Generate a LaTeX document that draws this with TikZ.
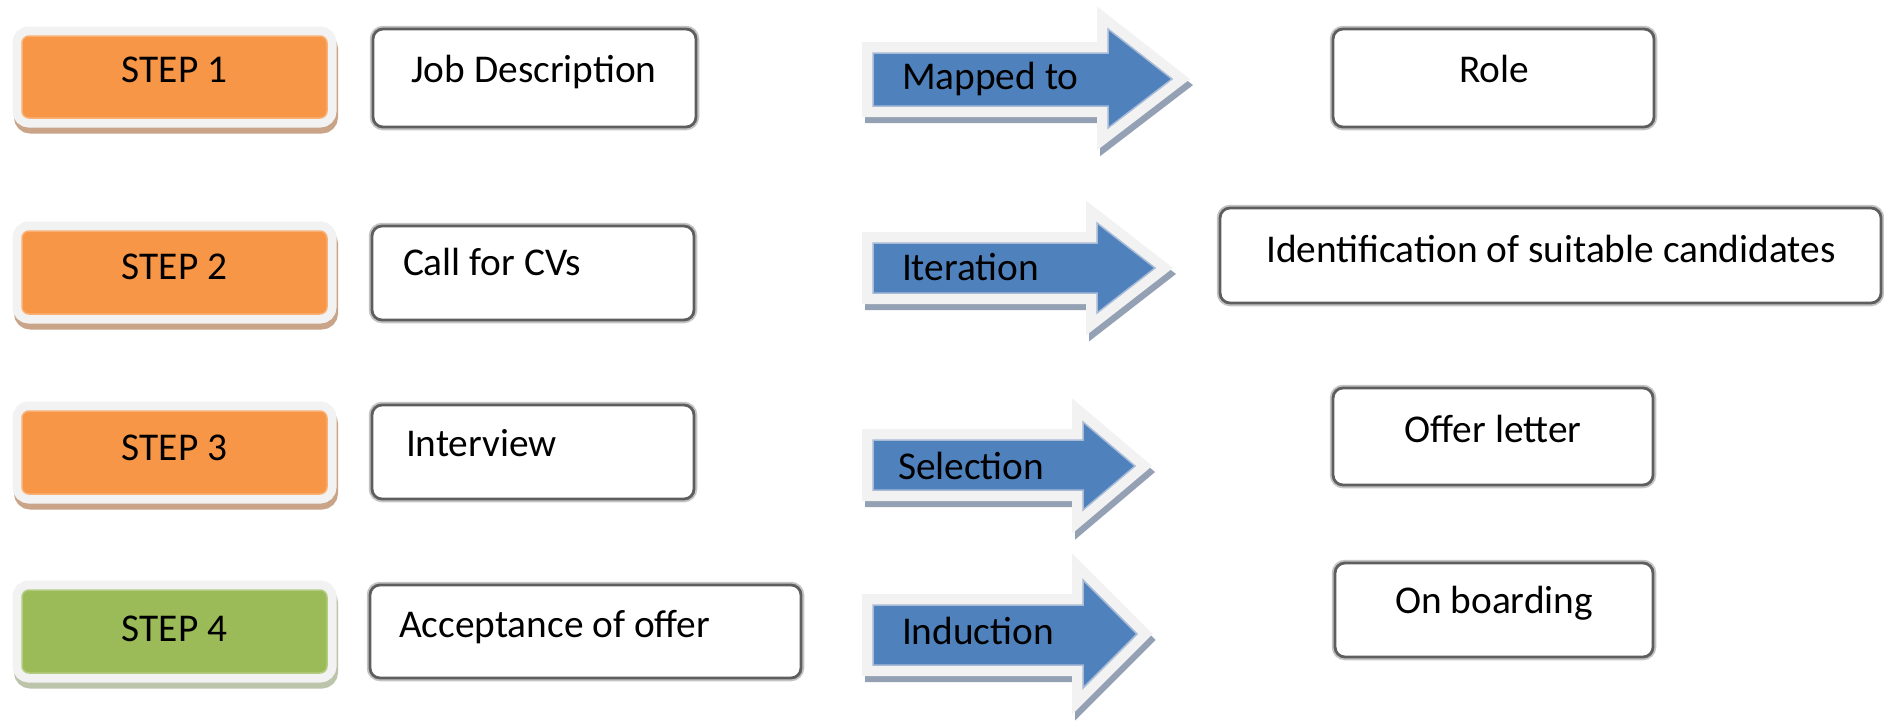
\documentclass[tikz,border=0pt]{standalone}
\usepackage{fontspec}
\setmainfont{Carlito}
\usetikzlibrary{fit}

\definecolor{stepOrange}{HTML}{F79646}
\definecolor{stepOrangeShade}{HTML}{C9A488}
\definecolor{stepGreen}{HTML}{9BBB59}
\definecolor{stepGreenShade}{HTML}{BDC4AC}
\definecolor{frameGrey}{HTML}{F2F2F2}
\definecolor{arrowBlue}{HTML}{4F81BD}
\definecolor{arrowEdge}{HTML}{A7BAD6}
\definecolor{arrowShade}{HTML}{94A1B4}
\definecolor{edgeDark}{HTML}{5E5E5E}
\definecolor{edgeLight}{HTML}{C4C4C4}

\tikzset{
  lbl/.style={font=\fontsize{11.2}{13}\selectfont, inner sep=0pt, outer sep=0pt, text=black},
  stepnode/.style={inner sep=0pt, outer sep=0pt, rounded corners=0.7mm,
    fill=#1, draw=#1!75!white, line width=0.15mm,
    preaction={draw=#1Shade, fill=#1Shade, line width=1.9mm,
      transform canvas={xshift=0.15mm, yshift=-0.6mm}},
    preaction={draw=frameGrey, line width=1.9mm}},
  wbox/.style={inner sep=0pt, outer sep=0pt, rounded corners=1mm,
    fill=white, draw=edgeDark, line width=0.28mm,
    preaction={draw=edgeLight, line width=0.65mm}},
  arrowbody/.style={fill=arrowBlue, draw=arrowEdge, line width=0.15mm, line join=miter,
    preaction={draw=arrowShade, fill=arrowShade, line width=2.2mm, line join=miter,
      transform canvas={xshift=0.3mm, yshift=-0.6mm}},
    preaction={draw=frameGrey, line width=2.2mm, line join=miter}},
}

% block arrow: left x, body top, body bottom, head base x, head top, head bottom, tip x, tip y
\newcommand\flowarrow[8]{%
  \path[arrowbody] (#1,#2) -- (#4,#2) -- (#4,#5) -- (#7,#8) -- (#4,#6) -- (#4,#3) -- (#1,#3) -- cycle;%
}

\begin{document}
\begin{tikzpicture}[x=0.1mm, y=-0.1mm]
  \fill[white] (0,0) rectangle (1884,721);
  \useasboundingbox (0,0) rectangle (1884,721);

  % step column
  \node[stepnode=stepOrange, fit={(22,36) (327,118)}]  (step1) {};
  \node[stepnode=stepOrange, fit={(22,231) (327,314)}] (step2) {};
  \node[stepnode=stepOrange, fit={(22,411) (327,494)}] (step3) {};
  \node[stepnode=stepGreen,  fit={(22,590) (327,673)}] (step4) {};
  \node[lbl, anchor=base] (step1txt) at (174.5,82)  {STEP 1};
  \node[lbl, anchor=base] (step2txt) at (174.5,279) {STEP 2};
  \node[lbl, anchor=base] (step3txt) at (174.5,460) {STEP 3};
  \node[lbl, anchor=base] (step4txt) at (174.5,641) {STEP 4};

  % activity column
  \node[wbox, fit={(373,29) (696,127)}]  (jd)  {};
  \node[wbox, fit={(372,226) (694,320)}] (cv)  {};
  \node[wbox, fit={(372,405) (694,499)}] (iv)  {};
  \node[wbox, fit={(370,585) (801,678)}] (acc) {};
  \node[lbl, anchor=base]      (jdtxt)  at (534,82)  {Job Description};
  \node[lbl, anchor=base west] (cvtxt)  at (403,275) {Call for CVs};
  \node[lbl, anchor=base west] (ivtxt)  at (406,456) {Interview};
  \node[lbl, anchor=base west] (acctxt) at (399,637) {Acceptance of offer};

  % transition arrows
  \flowarrow{873}{53}{106}{1108}{29}{128}{1172}{79}
  \flowarrow{873}{243}{293}{1097}{223}{313}{1155}{268}
  \flowarrow{873}{440}{490}{1083}{422}{510}{1135}{466}
  \flowarrow{873}{605}{665}{1083}{580}{688}{1137}{634}
  \node[lbl, anchor=base west] (a1txt) at (902,89)  {Mapped to};
  \node[lbl, anchor=base west] (a2txt) at (902,280) {Iteration};
  \node[lbl, anchor=base west] (a3txt) at (898,479) {Selection};
  \node[lbl, anchor=base west] (a4txt) at (902,644) {Induction};

  % outcome column
  \node[wbox, fit={(1333,29) (1654,127)}]  (role)  {};
  \node[wbox, fit={(1220,208) (1881,303)}] (ident) {};
  \node[wbox, fit={(1333,388) (1653,485)}] (offer) {};
  \node[wbox, fit={(1335,563) (1653,657)}] (board) {};
  \node[lbl, anchor=base] (roletxt)  at (1494,82)  {Role};
  \node[lbl, anchor=base] (identtxt) at (1551,262) {Identification of suitable candidates};
  \node[lbl, anchor=base] (offertxt) at (1493,442) {Offer letter};
  \node[lbl, anchor=base] (boardtxt) at (1494,613) {On boarding};
\end{tikzpicture}
\end{document}
